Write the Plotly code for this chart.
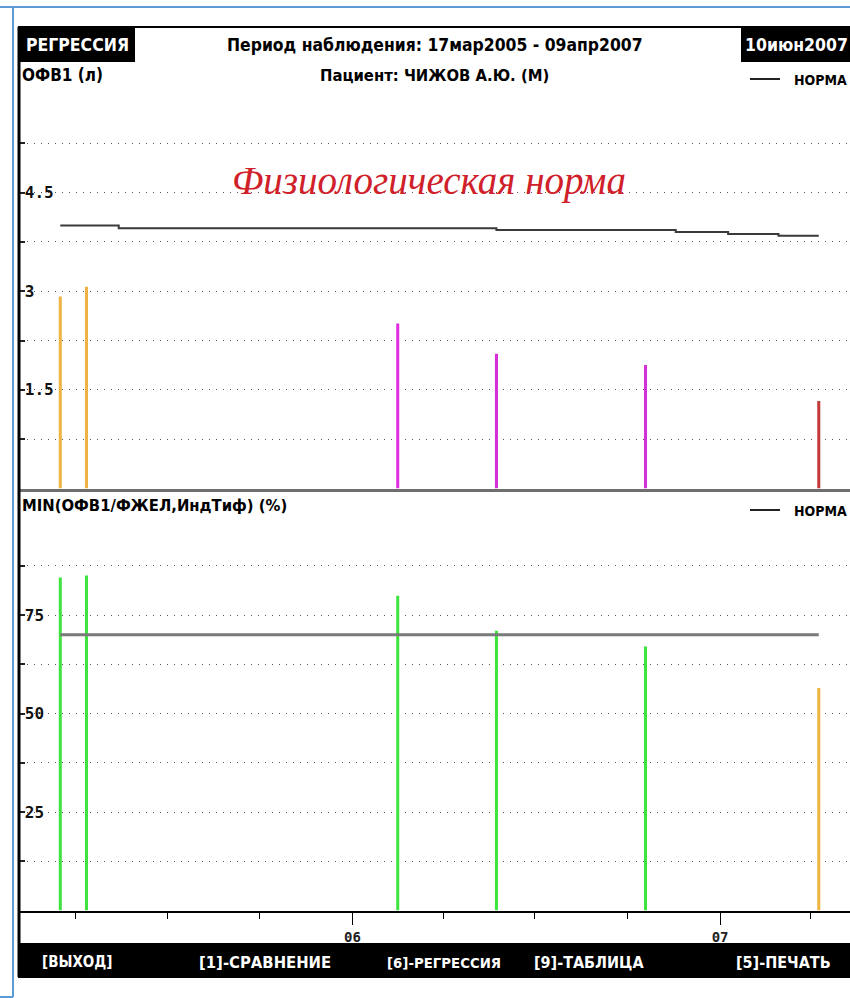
import plotly.graph_objects as go

# ---------------- data ----------------
visit_dates = ["2005-03-17", "2005-04-12", "2006-02-15", "2006-05-24", "2006-10-19", "2007-04-09"]
fev1_values = [2.92, 3.07, 2.51, 2.05, 1.88, 1.33]
fev1_colors = ["#EDB441", "#EDB441", "#E22CE2", "#D42ED4", "#D230D8", "#C43A3A"]
ratio_values = [84.5, 85.0, 79.9, 71.0, 67.0, 56.5]
ratio_colors = ["#3EE43E", "#3EE43E", "#3EE43E", "#3EE43E", "#3EE43E", "#EDB441"]

norm_top_dates = ["2005-03-17", "2005-05-14", "2006-05-24", "2006-11-18", "2007-01-09", "2007-02-28", "2007-04-09"]
norm_top_values = [4.00, 3.96, 3.93, 3.90, 3.87, 3.845, 3.845]
norm_bot_dates = ["2005-03-17", "2007-04-09"]
norm_bot_values = [70, 70]

top_tickvals = [0.75, 1.5, 2.25, 3.0, 3.75, 4.5, 5.25, 6.0]
top_ticktext = ["", "<b>1.5</b>", "", "<b>3</b>", "", "<b>4.5</b>", "", ""]
bot_tickvals = [12.5, 25, 37.5, 50, 62.5, 75, 87.5, 100]
bot_ticktext = ["", "<b>25</b>", "", "<b>50</b>", "", "<b>75</b>", "", ""]
x_tickvals = ["2006-01-01", "2007-01-01"]
x_ticktext = ["<b>06</b>", "<b>07</b>"]

FONT = "DejaVu Sans Condensed, Liberation Sans Narrow, sans-serif"
MONO = "DejaVu Sans Mono, monospace"
W, H = 850, 998


def px(x):
    return x / W


def py(y):
    return 1 - y / H


BAR_W = 3 * 86400000
XR = ["2005-02-05", "2007-05-10"]

fig = go.Figure()
fig.add_trace(go.Bar(x=visit_dates, y=fev1_values, marker=dict(color=fev1_colors, line=dict(width=0)),
                     width=BAR_W, xaxis="x2", yaxis="y2", showlegend=False))
fig.add_trace(go.Scatter(x=norm_top_dates, y=norm_top_values, mode="lines", line=dict(color="#3A3A3A", width=2, shape="hv"),
                         xaxis="x2", yaxis="y2", showlegend=False))
fig.add_trace(go.Bar(x=visit_dates, y=ratio_values, marker=dict(color=ratio_colors, line=dict(width=0)),
                     width=BAR_W, xaxis="x", yaxis="y", showlegend=False))
fig.add_trace(go.Scatter(x=norm_bot_dates, y=norm_bot_values, mode="lines", line=dict(color="#7A7A7A", width=3),
                         xaxis="x", yaxis="y", showlegend=False))

grid = dict(showgrid=True, gridcolor="#555555", gridwidth=1, griddash="1px,6px", zeroline=False)

fig.update_layout(
    width=W, height=H,
    margin=dict(l=0, r=0, t=0, b=0),
    paper_bgcolor="white", plot_bgcolor="white",
    font=dict(family=FONT, color="black"),
    xaxis=dict(domain=[px(20), 1], anchor="y", type="date", range=XR,
               tickmode="array", tickvals=x_tickvals, ticktext=x_ticktext,
               ticks="outside", ticklen=13, tickwidth=1, tickcolor="black",
               minor=dict(ticks="outside", ticklen=7, tickwidth=1, tickcolor="black", dtick="M3", tick0="2005-01-01", showgrid=False),
               showline=True, linecolor="black", linewidth=1.5, showgrid=False, zeroline=False,
               tickfont=dict(size=14, family=MONO, color="#222"), ticklabelstandoff=0),
    xaxis2=dict(domain=[px(20), 1], anchor="y2", type="date", range=XR, matches="x",
                showticklabels=False, ticks="", showline=True, linecolor="#6E6E6E", linewidth=2.5,
                showgrid=False, zeroline=False),
    yaxis=dict(domain=[py(910.5), py(516.5)], anchor="x", range=[0, 100],
               tickmode="array", tickvals=bot_tickvals, ticktext=bot_ticktext,
               ticks="inside", ticklen=5, tickwidth=2, tickcolor="#222",
               ticklabelposition="inside", tickfont=dict(size=16, family=MONO, color="#111"),
               showline=False, **grid),
    yaxis2=dict(domain=[py(488.5), py(94)], anchor="x2", range=[0, 6],
                tickmode="array", tickvals=top_tickvals, ticktext=top_ticktext,
                ticks="inside", ticklen=5, tickwidth=2, tickcolor="#222",
                ticklabelposition="inside", tickfont=dict(size=16, family=MONO, color="#111"),
                showline=False, **grid),
)

shapes = []
# blue outer border
shapes.append(dict(type="line", xref="paper", yref="paper", x0=0, x1=1, y0=py(7), y1=py(7), line=dict(color="#5B9BD5", width=2)))
shapes.append(dict(type="line", xref="paper", yref="paper", x0=px(13), x1=px(13), y0=py(7), y1=py(997), line=dict(color="#5B9BD5", width=2)))
shapes.append(dict(type="line", xref="paper", yref="paper", x0=0, x1=px(13), y0=py(997), y1=py(997), line=dict(color="#5B9BD5", width=2)))
# black frame
shapes.append(dict(type="line", xref="paper", yref="paper", x0=px(18), x1=1, y0=py(27), y1=py(27), line=dict(color="black", width=2)))
shapes.append(dict(type="line", xref="paper", yref="paper", x0=px(19), x1=px(19), y0=py(27), y1=py(977), line=dict(color="black", width=3)))
# header boxes
shapes.append(dict(type="rect", xref="paper", yref="paper", x0=px(18), x1=px(135), y0=py(62), y1=py(27), fillcolor="black", line=dict(width=0)))
shapes.append(dict(type="rect", xref="paper", yref="paper", x0=px(741), x1=1, y0=py(62), y1=py(27), fillcolor="black", line=dict(width=0)))
# bottom menu bar
shapes.append(dict(type="rect", xref="paper", yref="paper", x0=px(18), x1=1, y0=py(978), y1=py(943), fillcolor="black", line=dict(width=0)))
# legend lines
shapes.append(dict(type="line", xref="paper", yref="paper", x0=px(750), x1=px(780), y0=py(79), y1=py(79), line=dict(color="#222", width=2)))
shapes.append(dict(type="line", xref="paper", yref="paper", x0=px(750), x1=px(780), y0=py(510), y1=py(510), line=dict(color="#222", width=2)))
fig.update_layout(shapes=shapes)

ann = []


def text(t, x, y, size=20, color="black", xanchor="center", family=FONT, italic=False):
    ann.append(dict(text=("<i>%s</i>" % t) if italic else "<b>%s</b>" % t,
                    x=px(x), y=py(y), xref="paper", yref="paper", xanchor=xanchor, yanchor="middle",
                    showarrow=False, font=dict(size=size, color=color, family=family)))


text("РЕГРЕССИЯ", 77, 45, size=17.5, color="white")
text("Период наблюдения: 17мар2005 - 09апр2007", 435, 45, size=17.4)
text("10июн2007", 796, 45, size=17.5, color="white")
text("ОФВ1 (л)", 20, 75, size=17, xanchor="left")
text("Пациент: ЧИЖОВ А.Ю. (М)", 434, 75, size=16.5)
text("НОРМА", 792, 80, size=14, xanchor="left")
text("MIN(ОФВ1/ФЖЕЛ,ИндТиф) (%)", 20, 505, size=16.5, xanchor="left")
text("НОРМА", 792, 511, size=14, xanchor="left")
text("Физиологическая норма", 429, 181, size=39, color="#D0202A", family="Liberation Serif, DejaVu Serif, serif", italic=True)
text("[ВЫХОД]", 77, 962, size=15, color="white")
text("[1]-СРАВНЕНИЕ", 265, 962, size=16.5, color="white")
text("[6]-РЕГРЕССИЯ", 444, 962, size=14.8, color="white")
text("[9]-ТАБЛИЦА", 589, 962, size=16, color="white")
text("[5]-ПЕЧАТЬ", 783, 962, size=16, color="white")
fig.update_layout(annotations=ann)

fig.write_html("out.html", config={"displayModeBar": False},
               post_script="document.body.style.margin='0px';document.body.style.overflow='hidden';")
